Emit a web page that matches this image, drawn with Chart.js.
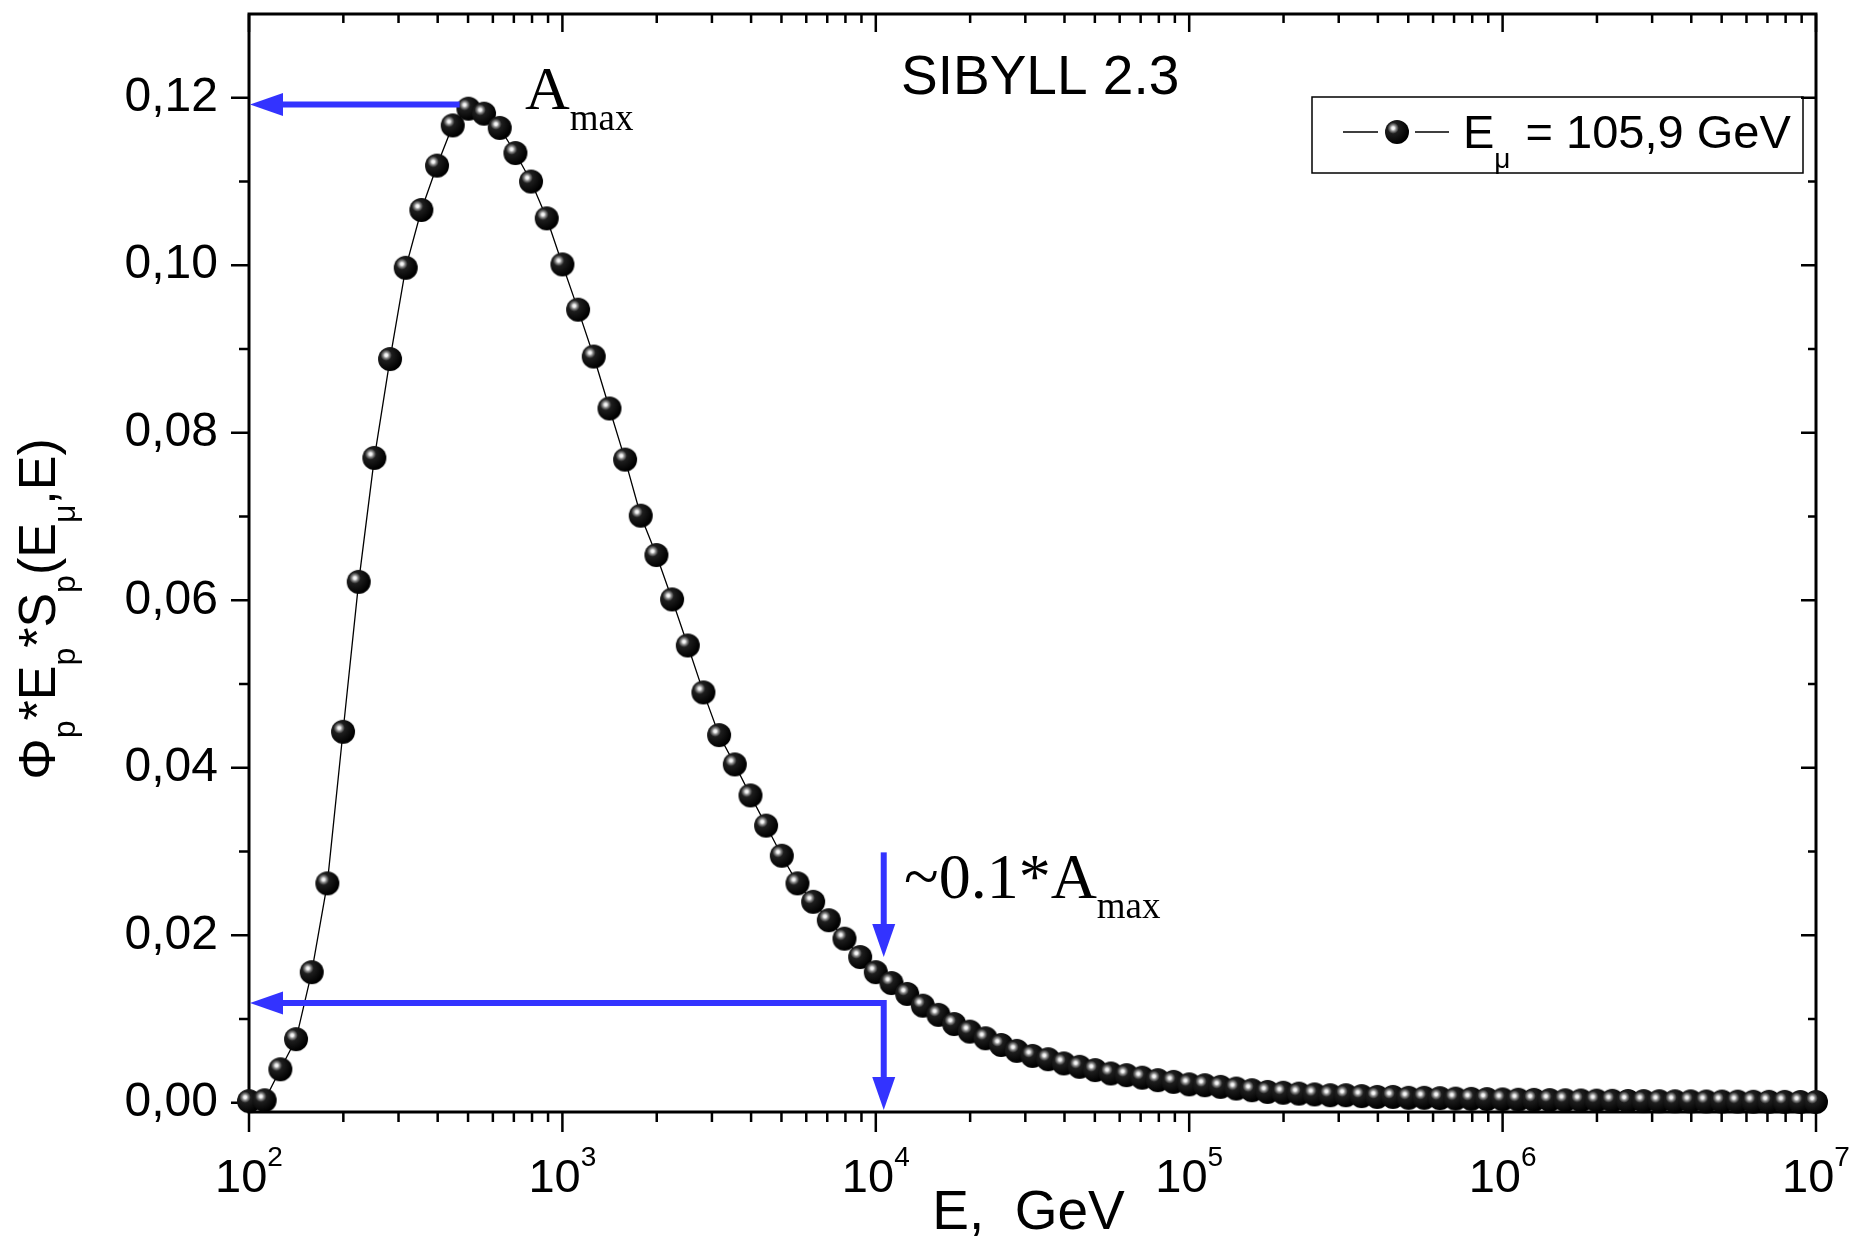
<!DOCTYPE html>
<html>
<head>
<meta charset="utf-8">
<script src="https://cdn.jsdelivr.net/npm/chart.js@4.4.0/dist/chart.umd.min.js"></script>
<style>
  html, body { margin: 0; padding: 0; background: #fff; }
  canvas { display: block; }
</style>
</head>
<body>
<canvas id="chart" width="1851" height="1237"></canvas>
<script>
// proton energy grid, GeV (20 points per decade, as in the plot)
const energies = [
  100, 112.2, 125.9, 141.3, 158.5, 177.8, 199.5, 223.9, 251.2, 281.8,
  316.2, 354.8, 398.1, 446.7, 501.2, 562.3, 631.0, 707.9, 794.3, 891.3,
  1000, 1122, 1259, 1413, 1585, 1778, 1995, 2239, 2512, 2818,
  3162, 3548, 3981, 4467, 5012, 5623, 6310, 7079, 7943, 8913,
  1.0e4, 1.122e4, 1.259e4, 1.413e4, 1.585e4, 1.778e4, 1.995e4, 2.239e4, 2.512e4, 2.818e4,
  3.162e4, 3.548e4, 3.981e4, 4.467e4, 5.012e4, 5.623e4, 6.310e4, 7.079e4, 7.943e4, 8.913e4,
  1.0e5, 1.122e5, 1.259e5, 1.413e5, 1.585e5, 1.778e5, 1.995e5, 2.239e5, 2.512e5, 2.818e5,
  3.162e5, 3.548e5, 3.981e5, 4.467e5, 5.012e5, 5.623e5, 6.310e5, 7.079e5, 7.943e5, 8.913e5,
  1.0e6, 1.122e6, 1.259e6, 1.413e6, 1.585e6, 1.778e6, 1.995e6, 2.239e6, 2.512e6, 2.818e6,
  3.162e6, 3.548e6, 3.981e6, 4.467e6, 5.012e6, 5.623e6, 6.310e6, 7.079e6, 7.943e6, 8.913e6,
  1.0e7
];

// Phi_p * E_p * S_p(E_mu, E) for E_mu = 105,9 GeV (SIBYLL 2.3)
const flux = [
  0.0002, 0.0003, 0.0040, 0.0076, 0.0156, 0.0262, 0.0443, 0.0622, 0.0770, 0.0888,
  0.0997, 0.1066, 0.1119, 0.1167, 0.1187, 0.1181, 0.1164, 0.1134, 0.1100, 0.1056,
  0.1001, 0.0947, 0.0891, 0.0829, 0.0768, 0.0701, 0.0654, 0.0601, 0.0546, 0.0490,
  0.0439, 0.0404, 0.0367, 0.0331, 0.0295, 0.0262, 0.0240, 0.0218, 0.0196, 0.0174,
  0.0156, 0.0143, 0.0130, 0.0116, 0.0105, 0.0094, 0.0085, 0.0077, 0.0069, 0.0062,
  0.0056, 0.0052, 0.0047, 0.0043, 0.0039, 0.0035, 0.0033, 0.0030, 0.0027, 0.0025,
  0.0022, 0.0021, 0.0019, 0.0017, 0.0015, 0.0013, 0.0012, 0.0011, 0.0010, 0.0009,
  0.0009, 0.0008, 0.0007, 0.0007, 0.0006, 0.0006, 0.00055, 0.0005, 0.00047, 0.00044,
  0.0004, 0.00037, 0.00035, 0.00032, 0.0003, 0.00028, 0.00026, 0.00024, 0.00022, 0.0002,
  0.00019, 0.00018, 0.00017, 0.00016, 0.00015, 0.00014, 0.00013, 0.00012, 0.00011, 0.0001,
  0.0001
];

const yMajor = [0, 0.02, 0.04, 0.06, 0.08, 0.10, 0.12];
const yLabels = ['0,00', '0,02', '0,04', '0,06', '0,08', '0,10', '0,12'];
const yMinor = [0.01, 0.03, 0.05, 0.07, 0.09, 0.11];
const xMajor = [1e2, 1e3, 1e4, 1e5, 1e6, 1e7];
const xExps = ['2', '3', '4', '5', '6', '7'];
const xMinor = [];
xMajor.slice(0, -1).forEach(d => { for (let m = 2; m <= 9; m++) xMinor.push(m * d); });

// annotation anchors (data coordinates)
const aMax = 0.1192;        // level of the maximum
const aTenth = 0.0119;      // ~0.1*Amax level
const eTenth = 10600;       // energy where the tail reaches ~0.1*Amax
const ePeakEnd = 470;

const blue = 'rgb(51, 51, 255)';
const sans = '"Liberation Sans", Arial, sans-serif';
const serif = '"Liberation Serif", "Times New Roman", serif';

// shiny black ball marker
function makeBall(r) {
  const c = document.createElement('canvas');
  const s = Math.ceil(r * 2 + 2);
  c.width = s; c.height = s;
  const g = c.getContext('2d');
  const cx = s / 2, cy = s / 2;
  const hx = cx - r * 0.32, hy = cy - r * 0.32;
  const grad = g.createRadialGradient(hx, hy, 0, hx, hy, r * 1.3);
  grad.addColorStop(0, '#ffffff');
  grad.addColorStop(0.09, '#eeeeee');
  grad.addColorStop(0.2, '#8a8a8a');
  grad.addColorStop(0.36, '#1e1e1e');
  grad.addColorStop(1, '#000000');
  g.fillStyle = grad;
  g.beginPath();
  g.arc(cx, cy, r, 0, Math.PI * 2);
  g.fill();
  return c;
}
const ball = makeBall(12);

function runs(ctx, x, y, parts) {
  // parts: [text, size, dy, family]
  let cx = x;
  parts.forEach(([t, size, dy, fam]) => {
    ctx.font = size + 'px ' + (fam || sans);
    ctx.fillText(t, cx, y + dy);
    cx += ctx.measureText(t).width;
  });
  return cx;
}
function runsWidth(ctx, parts) {
  let w = 0;
  parts.forEach(([t, size, dy, fam]) => {
    ctx.font = size + 'px ' + (fam || sans);
    w += ctx.measureText(t).width;
  });
  return w;
}

function arrowLeft(ctx, x, y) {
  ctx.beginPath();
  ctx.moveTo(x, y);
  ctx.lineTo(x + 33, y - 11.5);
  ctx.lineTo(x + 33, y + 11.5);
  ctx.closePath();
  ctx.fill();
}
function arrowDown(ctx, x, y) {
  ctx.beginPath();
  ctx.moveTo(x, y);
  ctx.lineTo(x - 11.5, y - 33);
  ctx.lineTo(x + 11.5, y - 33);
  ctx.closePath();
  ctx.fill();
}

const decor = {
  id: 'decor',
  beforeDatasetsDraw(chart) {
    const { ctx, chartArea: a, scales: { x, y } } = chart;
    ctx.save();
    ctx.strokeStyle = '#000';
    ctx.fillStyle = '#000';
    ctx.lineWidth = 3;
    ctx.strokeRect(a.left, a.top, a.right - a.left, a.bottom - a.top);

    ctx.lineWidth = 2.5;
    ctx.beginPath();
    xMajor.forEach(v => {
      const px = x.getPixelForValue(v);
      ctx.moveTo(px, a.bottom); ctx.lineTo(px, a.bottom + 20);
      ctx.moveTo(px, a.top); ctx.lineTo(px, a.top + 18);
    });
    xMinor.forEach(v => {
      const px = x.getPixelForValue(v);
      ctx.moveTo(px, a.bottom); ctx.lineTo(px, a.bottom + 10);
      ctx.moveTo(px, a.top); ctx.lineTo(px, a.top + 9);
    });
    yMajor.forEach(v => {
      const py = y.getPixelForValue(v);
      ctx.moveTo(a.left - 18, py); ctx.lineTo(a.left, py);
      ctx.moveTo(a.right - 15, py); ctx.lineTo(a.right, py);
    });
    yMinor.forEach(v => {
      const py = y.getPixelForValue(v);
      ctx.moveTo(a.left - 10, py); ctx.lineTo(a.left, py);
      ctx.moveTo(a.right - 8, py); ctx.lineTo(a.right, py);
    });
    ctx.stroke();

    // y tick labels
    ctx.font = '48px ' + sans;
    ctx.textAlign = 'right';
    ctx.textBaseline = 'middle';
    yMajor.forEach((v, i) => ctx.fillText(yLabels[i], a.left - 31, y.getPixelForValue(v)));

    // x tick labels 10^n
    ctx.textAlign = 'left';
    ctx.textBaseline = 'alphabetic';
    xMajor.forEach((v, i) => {
      const parts = [['10', 47, 0], [xExps[i], 28, -26]];
      const w = runsWidth(ctx, parts);
      runs(ctx, x.getPixelForValue(v) - w / 2, a.bottom + 80, parts);
    });

    // axis titles
    ctx.font = '55px ' + sans;
    ctx.textAlign = 'center';
    ctx.fillText('E,  GeV', (a.left + a.right) / 2 - 4, 1229);

    ctx.textAlign = 'left';
    const yt = [['Φ', 52, 0], ['p', 32, 20], ['*E', 52, 0], ['p', 32, 20], ['*S', 52, 0],
                ['p', 32, 20], ['(E', 52, 0], ['μ', 32, 20], [',E)', 52, 0]];
    const tw = runsWidth(ctx, yt);
    ctx.save();
    ctx.translate(55, 609);
    ctx.rotate(-Math.PI / 2);
    runs(ctx, -tw / 2, 0, yt);
    ctx.restore();

    // title
    ctx.font = '55px ' + sans;
    ctx.fillText('SIBYLL 2.3', 901, 94);
    ctx.restore();
  },
  afterDatasetsDraw(chart) {
    const { ctx, chartArea: a, scales: { x, y } } = chart;
    ctx.save();
    ctx.strokeStyle = blue;
    ctx.fillStyle = blue;
    ctx.lineWidth = 6;
    ctx.lineCap = 'butt';

    // arrow from the maximum to the y axis
    const yTop = y.getPixelForValue(aMax);
    ctx.beginPath();
    ctx.moveTo(x.getPixelForValue(ePeakEnd), yTop);
    ctx.lineTo(a.left + 30, yTop);
    ctx.stroke();
    arrowLeft(ctx, a.left + 1, yTop);

    // ~0.1*Amax level: horizontal to y axis and vertical to x axis
    const xT = x.getPixelForValue(eTenth);
    const yT = y.getPixelForValue(aTenth);
    ctx.beginPath();
    ctx.moveTo(a.left + 30, yT);
    ctx.lineTo(xT, yT);
    ctx.lineTo(xT, a.bottom - 30);
    ctx.stroke();
    arrowLeft(ctx, a.left + 1, yT);
    arrowDown(ctx, xT, a.bottom - 2);

    // short arrow pointing at the ~0.1*Amax point
    const y1 = y.getPixelForValue(0.0299), y2 = y.getPixelForValue(0.0174);
    ctx.beginPath();
    ctx.moveTo(xT, y1);
    ctx.lineTo(xT, y2 - 30);
    ctx.stroke();
    arrowDown(ctx, xT, y2);

    // labels
    ctx.fillStyle = '#000';
    ctx.textAlign = 'left';
    ctx.textBaseline = 'alphabetic';
    runs(ctx, 525, 109, [['A', 62, 0, serif], ['max', 37, 21, serif]]);
    runs(ctx, 904, 898, [['~0.1*A', 64, 0, serif], ['max', 37, 20, serif]]);

    // legend
    ctx.strokeStyle = '#000';
    ctx.lineWidth = 1.5;
    ctx.strokeRect(1312, 97, 491, 76);
    ctx.lineWidth = 1.3;
    ctx.beginPath();
    ctx.moveTo(1343, 132); ctx.lineTo(1378, 132);
    ctx.moveTo(1415, 132); ctx.lineTo(1449, 132);
    ctx.stroke();
    ctx.drawImage(ball, 1397 - ball.width / 2, 132 - ball.height / 2);
    const ex = runs(ctx, 1463, 148, [['E', 47, 0], ['μ', 28, 20]]);
    runs(ctx, Math.max(ex + 2, 1510), 148, [[' = 105,9 GeV', 47, 0]]);
    ctx.restore();
  }
};

new Chart(document.getElementById('chart'), {
  type: 'line',
  data: {
    datasets: [{
      label: 'E_mu = 105,9 GeV',
      data: energies.map((e, i) => ({ x: e, y: flux[i] })),
      borderColor: '#000',
      borderWidth: 1.3,
      pointStyle: ball,
      pointRadius: 12,
      tension: 0,
      clip: false
    }]
  },
  options: {
    responsive: false,
    devicePixelRatio: 1,
    animation: false,
    events: [],
    layout: { padding: { left: 0, top: 14, right: 35, bottom: 0 } },
    plugins: { legend: { display: false }, tooltip: { enabled: false } },
    scales: {
      x: {
        type: 'logarithmic',
        min: 100,
        max: 1e7,
        grid: { display: false },
        border: { display: false },
        ticks: { display: false },
        afterFit: s => { s.height = 125; }
      },
      y: {
        min: -0.0011,
        max: 0.13,
        grid: { display: false },
        border: { display: false },
        ticks: { display: false },
        afterFit: s => { s.width = 249; }
      }
    }
  },
  plugins: [decor]
});
</script>
</body>
</html>
